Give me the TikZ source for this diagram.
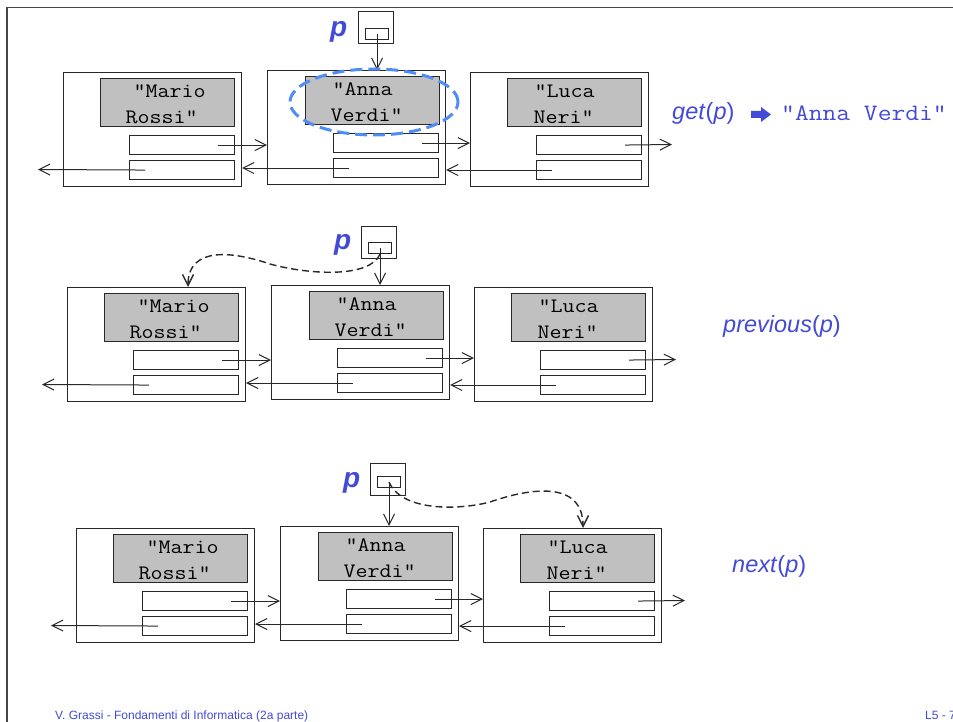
\documentclass[tikz,border=0pt]{standalone}
\usepackage{fontspec}
\usepackage{graphicx}
\setmainfont{Liberation Sans}
\usetikzlibrary{arrows.meta}
\definecolor{boxgray}{RGB}{192,192,192}
\definecolor{linec}{RGB}{40,40,40}
\definecolor{txtblue}{RGB}{66,74,214}
\definecolor{ellblue}{RGB}{80,140,245}
\definecolor{framec}{RGB}{70,70,70}
\newcommand\cw[1]{\scalebox{1.14}[1]{#1}}
\tikzset{
  elem/.style={draw=linec, line width=1.1pt, minimum width=178pt, minimum height=114pt, inner sep=0pt, anchor=north west},
  databox/.style={draw=linec, fill=boxgray, line width=1.1pt, minimum width=134pt, minimum height=48pt, inner sep=0pt, anchor=north west, text width=134pt, align=left, font={\ttfamily\fontsize{20.5}{26}\selectfont}},
  ptrbox/.style={draw=linec, line width=1.1pt, minimum width=105pt, minimum height=19pt, inner sep=0pt, anchor=north west},
  pouter/.style={draw=linec, line width=1.1pt, minimum width=35pt, minimum height=32pt, inner sep=0pt, anchor=north west},
  pinner/.style={draw=linec, line width=1.1pt, minimum width=23pt, minimum height=11pt, inner sep=0pt, anchor=north west},
  link/.style={draw=linec, line width=1pt, -{Straight Barb[length=11pt,width=11pt]}},
  dlink/.style={draw=linec, line width=1.4pt, dash pattern=on 7pt off 4pt, -{Straight Barb[length=11pt,width=11pt]}},
  plabel/.style={anchor=base west, inner sep=0pt, text=txtblue, font={\bfseries\itshape\fontsize{28}{30}\selectfont}},
  oplabel/.style={anchor=base west, inner sep=0pt, text=txtblue, font={\fontsize{23.5}{28}\selectfont}},
}
\newcommand\listrow[3]{%
\begin{scope}[shift={(#2,#3)}]
  \node[elem] (#1A) at (63,72) {};
  \node[databox] (#1Ad) at (100,78) {\rule{0pt}{16.5pt}\hspace*{33pt}\cw{"Mario}\\\hspace*{25pt}\cw{Rossi"}};
  \node[ptrbox] (#1An) at (129,135) {};
  \node[ptrbox] (#1Ap) at (129,160) {};
  \node[elem] (#1B) at (267,70) {};
  \node[databox] (#1Bd) at (305,76) {\rule{0pt}{16.5pt}\hspace*{27pt}\cw{"Anna}\\\hspace*{25pt}\cw{Verdi"}};
  \node[ptrbox] (#1Bn) at (333,133) {};
  \node[ptrbox] (#1Bp) at (333,158) {};
  \node[elem] (#1C) at (470,72) {};
  \node[databox] (#1Cd) at (507,78) {\rule{0pt}{16.5pt}\hspace*{27pt}\cw{"Luca}\\\hspace*{26pt}\cw{Neri"}};
  \node[ptrbox] (#1Cn) at (536,135) {};
  \node[ptrbox] (#1Cp) at (536,160) {};
  \coordinate (#1L) at (38,169.5);
  \coordinate (#1R) at (672,144.5);
  \draw[link] ([xshift=-17pt]#1An.east) -- (#1An.east -| #1B.west);
  \draw[link] ([xshift=-17pt]#1Bn.east) -- (#1Bn.east -| #1C.west);
  \draw[link] ([xshift=-17pt]#1Cn.east) -- (#1R);
  \draw[link] ([xshift=16pt]#1Ap.west) -- (#1L);
  \draw[link] ([xshift=16pt]#1Bp.west) -- (#1Bp.west -| #1A.east);
  \draw[link] ([xshift=16pt]#1Cp.west) -- (#1Cp.west -| #1B.east);
\end{scope}}
\begin{document}
\begin{tikzpicture}[x=1pt,y=-1pt]
\useasboundingbox (0,0) rectangle (953,722);
\draw[framec, line width=1.3pt] (7,722) -- (7,7.5) -- (953,7.5);
% row 1
\listrow{ra}{0}{0}
\node[pouter] (pa) at (358,11) {};
\node[pinner] (pai) at (365,28) {};
\node[plabel] (pal) at (330,36.5) {p};
\draw[link] (pai.center) -- (pai.center |- raB.north);
\draw[ellblue, line width=3pt, dash pattern=on 12pt off 6pt] (374,102) ellipse [x radius=84pt, y radius=33pt];
\node[oplabel] (geta) at (672,120) {\textit{get}(\textit{p})};
\fill[txtblue] (751,111) -- (761,111) -- (761,107) -- (771,114.5) -- (761,122) -- (761,118) -- (751,118) -- cycle;
\node[anchor=base west, inner sep=0pt, text=txtblue, font={\ttfamily\fontsize{23.5}{28}\selectfont}] (getv) at (781,121) {\cw{"Anna Verdi"}};
% row 2
\listrow{rb}{4}{215}
\node[pouter] (pb) at (361,226) {};
\node[pinner] (pbi) at (368,242) {};
\node[plabel] (pbl) at (334,250) {p};
\draw[link] (pbi.center) -- (pbi.center |- rbB.north);
\coordinate (rbT) at (188,287);
\draw[dlink] (pbi.south) .. controls (370,278) and (310,275) .. (270,264) .. controls (235,252) and (188,245) .. (rbT);
\node[oplabel] (prevl) at (723,332) {\textit{previous}(\textit{p})};
% row 3
\listrow{rc}{13}{456}
\node[pouter] (pc) at (370,463) {};
\node[pinner] (pci) at (377,476) {};
\node[plabel] (pcl) at (343,487) {p};
\draw[link] (pci.center) -- (pci.center |- rcB.north);
\coordinate (rcT) at (583,528);
\draw[dlink] (pci.center) .. controls (402,512) and (460,510) .. (490,502) .. controls (530,488) and (583,480) .. (rcT);
\node[oplabel] (nextl) at (732,572) {\textit{next}(\textit{p})};
% footer
\node[anchor=base west, inner sep=0pt, text=txtblue, font={\fontsize{12}{14}\selectfont}] (foot) at (55,719) {V. Grassi - Fondamenti di Informatica (2a parte)};
\node[anchor=base west, inner sep=0pt, text=txtblue, font={\fontsize{12}{14}\selectfont}] (page) at (925,719) {L5 - 7};
\end{tikzpicture}
\end{document}
